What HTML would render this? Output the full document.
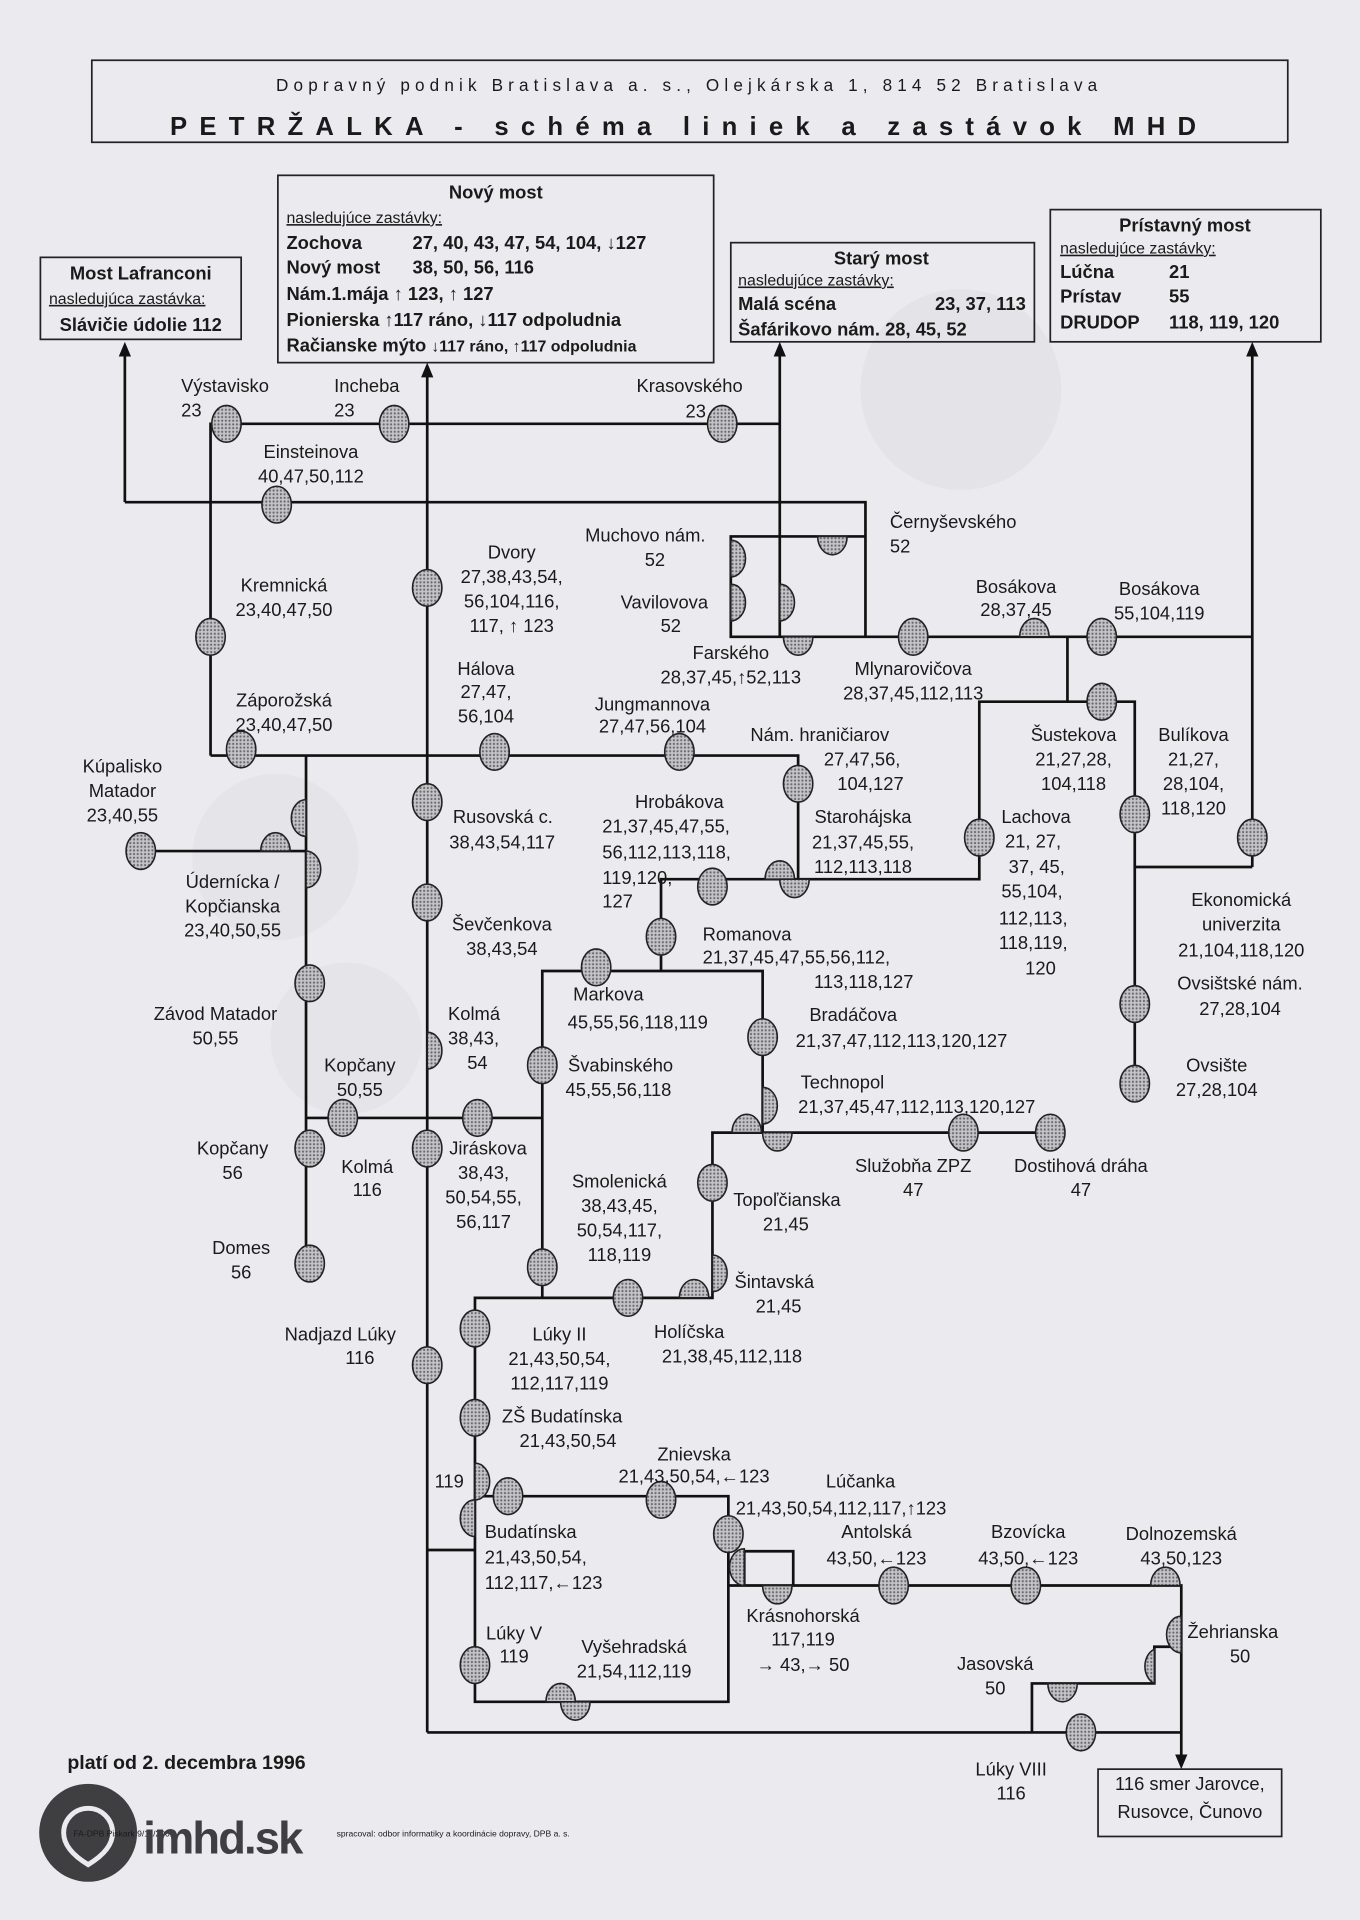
<!DOCTYPE html>
<html><head><meta charset="utf-8"><style>
html,body{margin:0;padding:0;background:#ebebef;}
svg{display:block;}
text{font-family:"Liberation Sans",sans-serif;font-size:15px;fill:#1a1a1a;}
.c{text-anchor:middle;}
.b{font-weight:bold;}
.ln{stroke:#111;stroke-width:2.2;fill:none;}
.bx{stroke:#222;stroke-width:1.4;fill:none;}
.st{fill:url(#dots);stroke:#222;stroke-width:1.3;}
</style></head><body>
<svg width="1360" height="1920" viewBox="0 0 1111 1568" xmlns="http://www.w3.org/2000/svg">
<defs>
<pattern id="dots" width="3" height="3" patternUnits="userSpaceOnUse"><rect width="3" height="3" fill="#c4c4c8"/><circle cx="1.5" cy="1.5" r="0.9" fill="#6a6a70"/></pattern>
</defs>
<rect width="1111" height="1568" fill="#ebebef"/>
<!-- faint watermarks -->
<circle cx="785" cy="318" r="82" fill="#e3e3e8"/>
<circle cx="225" cy="700" r="68" fill="#e4e4e9"/>
<circle cx="283" cy="848" r="62" fill="#e4e4e9"/>

<!-- header -->
<rect x="75" y="49" width="977" height="67" class="bx"/>
<text x="563" y="74" class="c" style="font-size:14px;letter-spacing:4.2px">Dopravný podnik Bratislava a. s.,  Olejkárska 1,  814 52 Bratislava</text>
<text x="563" y="110" class="c b" style="font-size:21px;letter-spacing:10px">PETRŽALKA - schéma liniek a zastávok MHD</text>

<!-- Nový most box -->
<rect x="227" y="143" width="356" height="153" class="bx"/>
<text x="405" y="162" class="c b">Nový most</text>
<text x="234" y="182" style="font-size:13px;text-decoration:underline">nasledujúce zastávky:</text>
<text x="234" y="203" class="b">Zochova</text><text x="337" y="203" class="b">27, 40, 43, 47, 54, 104, ↓127</text>
<text x="234" y="223" class="b">Nový most</text><text x="337" y="223" class="b">38, 50, 56, 116</text>
<text x="234" y="245" class="b">Nám.1.mája ↑ 123, ↑ 127</text>
<text x="234" y="266" class="b">Pionierska  ↑117 ráno, ↓117 odpoludnia</text>
<text x="234" y="287" class="b">Račianske mýto <tspan style="font-size:13px">↓117 ráno, ↑117 odpoludnia</tspan></text>
<!-- Most Lafranconi -->
<rect x="33" y="210" width="164" height="67" class="bx"/>
<text x="115" y="228" class="c b">Most Lafranconi</text>
<text x="40" y="248" style="font-size:13px;text-decoration:underline">nasledujúca zastávka:</text>
<text x="115" y="270" class="c b">Slávičie údolie 112</text>
<!-- Starý most -->
<rect x="597" y="198" width="248" height="81" class="bx"/>
<text x="720" y="216" class="c b">Starý most</text>
<text x="603" y="233" style="font-size:13px;text-decoration:underline">nasledujúce zastávky:</text>
<text x="603" y="253" class="b">Malá scéna</text><text x="838" y="253" class="b" text-anchor="end">23, 37, 113</text>
<text x="603" y="274" class="b">Šafárikovo nám. 28, 45, 52</text>
<!-- Prístavný most -->
<rect x="858" y="171" width="221" height="108" class="bx"/>
<text x="968" y="189" class="c b">Prístavný most</text>
<text x="866" y="207" style="font-size:13px;text-decoration:underline">nasledujúce zastávky:</text>
<text x="866" y="227" class="b">Lúčna</text><text x="955" y="227" class="b">21</text>
<text x="866" y="247" class="b">Prístav</text><text x="955" y="247" class="b">55</text>
<text x="866" y="268" class="b">DRUDOP</text><text x="955" y="268" class="b">118, 119, 120</text>

<!-- lines -->
<g class="ln">
<path d="M102,410 L102,288"/>
<path d="M349,1415 L349,305"/>
<path d="M637,520 L637,288"/>
<path d="M1023,708 L1023,288"/>
<path d="M172,617 L172,346 L637,346"/>
<path d="M102,410 L707,410 L707,520"/>
<path d="M707,438 L597,438 L597,520 L1023,520"/>
<path d="M872,520 L872,573 L800,573 L800,718 L540,718 L540,793"/>
<path d="M872,573 L927,573 L927,900"/>
<path d="M927,708 L1023,708"/>
<path d="M172,617 L652,617 L652,718"/>
<path d="M443,1060 L443,793 L623,793 L623,925"/>
<path d="M250,1035 L250,617"/>
<path d="M115,695 L250,695"/>
<path d="M250,913 L443,913"/>
<path d="M860,925 L582,925 L582,1060 L388,1060 L388,1390 L595,1390 L595,1222 L388,1222"/>
<path d="M349,1266 L388,1266"/>
<path d="M608,1295 L608,1267 L648,1267 L648,1295"/>
<path d="M595,1295 L965,1295 L965,1436"/>
<path d="M965,1345 L943,1345 L943,1375 L843,1375 L843,1415"/>
<path d="M349,1415 L965,1415"/>
</g>
<g fill="#111">
<path d="M102,279 L97,291 L107,291 Z"/>
<path d="M349,296 L344,308 L354,308 Z"/>
<path d="M637,279 L632,291 L642,291 Z"/>
<path d="M1023,279 L1018,291 L1028,291 Z"/>
<path d="M965,1445 L960,1433 L970,1433 Z"/>
</g>

<!-- full stops -->
<g class="st">
<ellipse cx="185" cy="346" rx="12" ry="15"/>
<ellipse cx="322" cy="346" rx="12" ry="15"/>
<ellipse cx="590" cy="346" rx="12" ry="15"/>
<ellipse cx="226" cy="412" rx="12" ry="15"/>
<ellipse cx="349" cy="480" rx="12" ry="15"/>
<ellipse cx="172" cy="520" rx="12" ry="15"/>
<ellipse cx="746" cy="520" rx="12" ry="15"/>
<ellipse cx="900" cy="520" rx="12" ry="15"/>
<ellipse cx="900" cy="573" rx="12" ry="15"/>
<ellipse cx="197" cy="612" rx="12" ry="15"/>
<ellipse cx="404" cy="614" rx="12" ry="15"/>
<ellipse cx="555" cy="614" rx="12" ry="15"/>
<ellipse cx="652" cy="640" rx="12" ry="15"/>
<ellipse cx="349" cy="655" rx="12" ry="15"/>
<ellipse cx="927" cy="665" rx="12" ry="15"/>
<ellipse cx="800" cy="684" rx="12" ry="15"/>
<ellipse cx="1023" cy="684" rx="12" ry="15"/>
<ellipse cx="115" cy="695" rx="12" ry="15"/>
<ellipse cx="582" cy="724" rx="12" ry="15"/>
<ellipse cx="349" cy="737" rx="12" ry="15"/>
<ellipse cx="540" cy="765" rx="12" ry="15"/>
<ellipse cx="487" cy="790" rx="12" ry="15"/>
<ellipse cx="253" cy="803" rx="12" ry="15"/>
<ellipse cx="927" cy="820" rx="12" ry="15"/>
<ellipse cx="623" cy="847" rx="12" ry="15"/>
<ellipse cx="443" cy="870" rx="12" ry="15"/>
<ellipse cx="927" cy="885" rx="12" ry="15"/>
<ellipse cx="280" cy="913" rx="12" ry="15"/>
<ellipse cx="390" cy="913" rx="12" ry="15"/>
<ellipse cx="787" cy="925" rx="12" ry="15"/>
<ellipse cx="858" cy="925" rx="12" ry="15"/>
<ellipse cx="253" cy="938" rx="12" ry="15"/>
<ellipse cx="349" cy="938" rx="12" ry="15"/>
<ellipse cx="582" cy="966" rx="12" ry="15"/>
<ellipse cx="253" cy="1032" rx="12" ry="15"/>
<ellipse cx="443" cy="1035" rx="12" ry="15"/>
<ellipse cx="513" cy="1060" rx="12" ry="15"/>
<ellipse cx="388" cy="1085" rx="12" ry="15"/>
<ellipse cx="349" cy="1115" rx="12" ry="15"/>
<ellipse cx="388" cy="1158" rx="12" ry="15"/>
<ellipse cx="415" cy="1222" rx="12" ry="15"/>
<ellipse cx="540" cy="1225" rx="12" ry="15"/>
<ellipse cx="595" cy="1253" rx="12" ry="15"/>
<ellipse cx="730" cy="1295" rx="12" ry="15"/>
<ellipse cx="838" cy="1295" rx="12" ry="15"/>
<ellipse cx="388" cy="1360" rx="12" ry="15"/>
<ellipse cx="883" cy="1415" rx="12" ry="15"/>
<!-- half stops -->
<path d="M597,441 A12,15 0 0 1 597,471 Z"/>
<path d="M668,438 A12,15 0 0 0 692,438 Z"/>
<path d="M597,477 A12,15 0 0 1 597,507 Z"/>
<path d="M637,477 A12,15 0 0 1 637,507 Z"/>
<path d="M640,520 A12,15 0 0 0 664,520 Z"/>
<path d="M833,520 A12,15 0 0 1 857,520 Z"/>
<path d="M250,653 A12,15 0 0 0 250,683 Z"/>
<path d="M213,695 A12,15 0 0 1 237,695 Z"/>
<path d="M250,695 A12,15 0 0 1 250,725 Z"/>
<path d="M625,718 A12,15 0 0 1 649,718 Z"/>
<path d="M637,718 A12,15 0 0 0 661,718 Z"/>
<path d="M349,843 A12,15 0 0 1 349,873 Z"/>
<path d="M623,888 A12,15 0 0 1 623,918 Z"/>
<path d="M598,925 A12,15 0 0 1 622,925 Z"/>
<path d="M623,925 A12,15 0 0 0 647,925 Z"/>
<path d="M582,1025 A12,15 0 0 1 582,1055 Z"/>
<path d="M555,1060 A12,15 0 0 1 579,1060 Z"/>
<path d="M388,1195 A12,15 0 0 1 388,1225 Z"/>
<path d="M388,1225 A12,15 0 0 0 388,1255 Z"/>
<path d="M446,1390 A12,15 0 0 1 470,1390 Z"/>
<path d="M458,1390 A12,15 0 0 0 482,1390 Z"/>
<path d="M608,1265 A12,15 0 0 0 608,1295 Z"/>
<path d="M623,1295 A12,15 0 0 0 647,1295 Z"/>
<path d="M940,1295 A12,15 0 0 1 964,1295 Z"/>
<path d="M965,1320 A12,15 0 0 0 965,1350 Z"/>
<path d="M943,1347 A12,15 0 0 0 943,1375 Z"/>
<path d="M856,1375 A12,15 0 0 0 880,1375 Z"/>
</g>

<!-- labels -->
<text x="148" y="320">Výstavisko</text><text x="148" y="340">23</text>
<text x="273" y="320">Incheba</text><text x="273" y="340">23</text>
<text x="520" y="320">Krasovského</text><text x="560" y="341">23</text>
<text x="254" y="374" class="c">Einsteinova</text><text x="254" y="394" class="c">40,47,50,112</text>
<text x="727" y="431">Černyševského</text><text x="727" y="451">52</text>
<text x="478" y="442">Muchovo nám.</text><text x="535" y="462" class="c">52</text>
<text x="418" y="456" class="c">Dvory</text><text x="418" y="476" class="c">27,38,43,54,</text><text x="418" y="496" class="c">56,104,116,</text><text x="418" y="516" class="c">117, ↑ 123</text>
<text x="507" y="497">Vavilovova</text><text x="548" y="516" class="c">52</text>
<text x="232" y="483" class="c">Kremnická</text><text x="232" y="503" class="c">23,40,47,50</text>
<text x="830" y="484" class="c">Bosákova</text><text x="830" y="503" class="c">28,37,45</text>
<text x="947" y="486" class="c">Bosákova</text><text x="947" y="506" class="c">55,104,119</text>
<text x="597" y="538" class="c">Farského</text><text x="597" y="558" class="c">28,37,45,↑52,113</text>
<text x="746" y="551" class="c">Mlynarovičova</text><text x="746" y="571" class="c">28,37,45,112,113</text>
<text x="397" y="551" class="c">Hálova</text><text x="397" y="570" class="c">27,47,</text><text x="397" y="590" class="c">56,104</text>
<text x="232" y="577" class="c">Záporožská</text><text x="232" y="597" class="c">23,40,47,50</text>
<text x="533" y="580" class="c">Jungmannova</text><text x="533" y="598" class="c">27,47,56,104</text>
<text x="613" y="605">Nám. hraničiarov</text><text x="673" y="625">27,47,56,</text><text x="684" y="645">104,127</text>
<text x="877" y="605" class="c">Šustekova</text><text x="877" y="625" class="c">21,27,28,</text><text x="877" y="645" class="c">104,118</text>
<text x="975" y="605" class="c">Bulíkova</text><text x="975" y="625" class="c">21,27,</text><text x="975" y="645" class="c">28,104,</text><text x="975" y="665" class="c">118,120</text>
<text x="100" y="631" class="c">Kúpalisko</text><text x="100" y="651" class="c">Matador</text><text x="100" y="671" class="c">23,40,55</text>
<text x="370" y="672">Rusovská c.</text><text x="367" y="693">38,43,54,117</text>
<text x="555" y="660" class="c">Hrobákova</text><text x="492" y="680">21,37,45,47,55,</text><text x="492" y="701">56,112,113,118,</text><text x="492" y="722">119,120,</text><text x="492" y="741">127</text>
<text x="705" y="672" class="c">Starohájska</text><text x="705" y="693" class="c">21,37,45,55,</text><text x="705" y="713" class="c">112,113,118</text>
<text x="818" y="672">Lachova</text><text x="821" y="692">21, 27,</text><text x="824" y="713">37, 45,</text><text x="818" y="733">55,104,</text><text x="816" y="755">112,113,</text><text x="816" y="775">118,119,</text><text x="850" y="796" class="c">120</text>
<text x="190" y="725" class="c">Údernícka /</text><text x="190" y="745" class="c">Kopčianska</text><text x="190" y="765" class="c">23,40,50,55</text>
<text x="1014" y="740" class="c">Ekonomická</text><text x="1014" y="760" class="c">univerzita</text><text x="1014" y="781" class="c">21,104,118,120</text>
<text x="410" y="760" class="c">Ševčenkova</text><text x="410" y="780" class="c">38,43,54</text>
<text x="574" y="768">Romanova</text><text x="574" y="787">21,37,45,47,55,56,112,</text><text x="665" y="807">113,118,127</text>
<text x="1013" y="808" class="c">Ovsištské nám.</text><text x="1013" y="829" class="c">27,28,104</text>
<text x="497" y="817" class="c">Markova</text><text x="521" y="840" class="c">45,55,56,118,119</text>
<text x="176" y="833" class="c">Závod Matador</text><text x="176" y="853" class="c">50,55</text>
<text x="366" y="833">Kolmá</text><text x="366" y="853">38,43,</text><text x="390" y="873" class="c">54</text>
<text x="697" y="834" class="c">Bradáčova</text><text x="650" y="855">21,37,47,112,113,120,127</text>
<text x="294" y="875" class="c">Kopčany</text><text x="294" y="895" class="c">50,55</text>
<text x="464" y="875">Švabinského</text><text x="462" y="895">45,55,56,118</text>
<text x="994" y="875" class="c">Ovsište</text><text x="994" y="895" class="c">27,28,104</text>
<text x="654" y="889">Technopol</text><text x="652" y="909">21,37,45,47,112,113,120,127</text>
<text x="190" y="943" class="c">Kopčany</text><text x="190" y="963" class="c">56</text>
<text x="367" y="943">Jiráskova</text><text x="395" y="963" class="c">38,43,</text><text x="395" y="983" class="c">50,54,55,</text><text x="395" y="1003" class="c">56,117</text>
<text x="300" y="958" class="c">Kolmá</text><text x="300" y="977" class="c">116</text>
<text x="746" y="957" class="c">Služobňa ZPZ</text><text x="746" y="977" class="c">47</text>
<text x="883" y="957" class="c">Dostihová dráha</text><text x="883" y="977" class="c">47</text>
<text x="506" y="970" class="c">Smolenická</text><text x="506" y="990" class="c">38,43,45,</text><text x="506" y="1010" class="c">50,54,117,</text><text x="506" y="1030" class="c">118,119</text>
<text x="599" y="985">Topoľčianska</text><text x="642" y="1005" class="c">21,45</text>
<text x="197" y="1024" class="c">Domes</text><text x="197" y="1044" class="c">56</text>
<text x="600" y="1052">Šintavská</text><text x="636" y="1072" class="c">21,45</text>
<text x="278" y="1095" class="c">Nadjazd Lúky</text><text x="294" y="1114" class="c">116</text>
<text x="457" y="1095" class="c">Lúky II</text><text x="457" y="1115" class="c">21,43,50,54,</text><text x="457" y="1135" class="c">112,117,119</text>
<text x="563" y="1093" class="c">Holíčska</text><text x="598" y="1113" class="c">21,38,45,112,118</text>
<text x="410" y="1162">ZŠ Budatínska</text><text x="464" y="1182" class="c">21,43,50,54</text>
<text x="567" y="1193" class="c">Znievska</text><text x="567" y="1211" class="c">21,43,50,54,←123</text>
<text x="703" y="1215" class="c">Lúčanka</text><text x="601" y="1237">21,43,50,54,112,117,↑123</text>
<text x="355" y="1215">119</text>
<text x="396" y="1256">Budatínska</text><text x="396" y="1277">21,43,50,54,</text><text x="396" y="1298">112,117,←123</text>
<text x="716" y="1256" class="c">Antolská</text><text x="716" y="1278" class="c">43,50,←123</text>
<text x="840" y="1256" class="c">Bzovícka</text><text x="840" y="1278" class="c">43,50,←123</text>
<text x="965" y="1258" class="c">Dolnozemská</text><text x="965" y="1278" class="c">43,50,123</text>
<text x="656" y="1325" class="c">Krásnohorská</text><text x="656" y="1344" class="c">117,119</text><text x="656" y="1365" class="c">→ 43,→ 50</text>
<text x="970" y="1338">Žehrianska</text><text x="1013" y="1358" class="c">50</text>
<text x="397" y="1339">Lúky V</text><text x="408" y="1358">119</text>
<text x="518" y="1350" class="c">Vyšehradská</text><text x="518" y="1370" class="c">21,54,112,119</text>
<text x="813" y="1364" class="c">Jasovská</text><text x="813" y="1384" class="c">50</text>
<text x="55" y="1445" class="b" style="font-size:16px">platí od 2. decembra 1996</text>
<text x="826" y="1450" class="c">Lúky VIII</text><text x="826" y="1470" class="c">116</text>
<rect x="897" y="1445" width="150" height="55" class="bx"/>
<text x="972" y="1462" class="c">116 smer Jarovce,</text><text x="972" y="1485" class="c">Rusovce, Čunovo</text>

<!-- logo -->
<circle cx="72" cy="1497" r="40" fill="#3f3f42"/>
<path d="M52,1497 a20,20 0 1 1 40,0 q0,14 -20,26 q-20,-12 -20,-26 Z" fill="none" stroke="#ebebef" stroke-width="4"/>
<text x="60" y="1500" style="font-size:7px">FA-DPB Piskark 9/11/2001</text>
<text x="275" y="1500" style="font-size:7px">spracoval: odbor informatiky a koordinácie dopravy, DPB a. s.</text>
<text x="117" y="1514" class="b" style="font-size:37px;fill:#3f3f42;letter-spacing:-1.5px">imhd.sk</text>
</svg>
</body></html>
